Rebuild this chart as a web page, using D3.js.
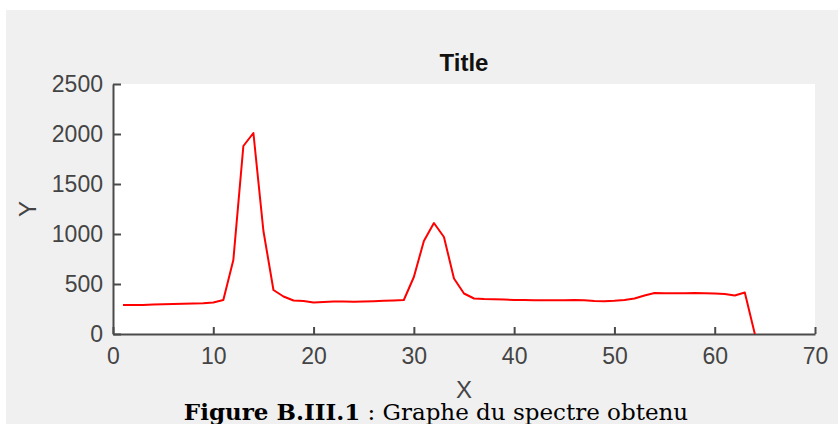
<!DOCTYPE html>
<html>
<head>
<meta charset="utf-8">
<script src="https://cdn.jsdelivr.net/npm/d3@7"></script>
<style>
  body { margin: 0; background: #fff; }
</style>
</head>
<body>
<script>
// valeurs
const xs = d3.range(1, 65);
const ys = [290, 290, 290, 295, 298, 300, 303, 305, 308, 315,
  340, 740, 1880, 2010, 1030, 440, 375, 335, 330, 315,
  320, 325, 325, 322, 325, 328, 332, 335, 340, 570,
  930, 1110, 970, 555, 405, 355, 350, 348, 345, 340,
  340, 338, 338, 338, 338, 340, 338, 330, 328, 332,
  340, 355, 385, 410, 408, 408, 408, 410, 408, 405,
  400, 385, 415, 0];
const xTicks = [0, 10, 20, 30, 40, 50, 60, 70];
const yTicks = [0, 500, 1000, 1500, 2000, 2500];

const W = 838, H = 424;
const m = { left: 113, right: 815, top: 84, bottom: 334 };

const svg = d3.select("body").append("svg")
  .attr("width", W)
  .attr("height", H);

// fond gris de la figure
svg.append("rect")
  .attr("x", 6).attr("y", 10)
  .attr("width", W - 6).attr("height", H - 10)
  .attr("fill", "#f0f0f0");

// zone blanche des axes
svg.append("rect")
  .attr("x", m.left).attr("y", m.top)
  .attr("width", m.right - m.left).attr("height", m.bottom - m.top)
  .attr("fill", "#fff");

const x = d3.scaleLinear().domain([0, 70]).range([m.left, m.right]);
const y = d3.scaleLinear().domain([0, 2500]).range([m.bottom, m.top]);

const axisColor = "#4a4a4a";

// axe X, ticks vers l'intérieur
const gx = svg.append("g")
  .attr("transform", `translate(0,${m.bottom})`)
  .call(d3.axisBottom(x).tickValues(xTicks).tickFormat(d3.format("d"))
    .tickSizeInner(-7).tickSizeOuter(0).tickPadding(14));

const gy = svg.append("g")
  .attr("transform", `translate(${m.left},0)`)
  .call(d3.axisLeft(y).tickValues(yTicks).tickFormat(d3.format("d"))
    .tickSizeInner(-8).tickSizeOuter(0).tickPadding(10));

[gx, gy].forEach(g => {
  g.select(".domain").attr("stroke", axisColor).attr("stroke-width", 2);
  g.selectAll(".tick line").attr("stroke", axisColor).attr("stroke-width", 2);
  g.selectAll(".tick text")
    .attr("fill", "#444")
    .style("font-family", "'Liberation Sans', Arial, sans-serif")
    .style("font-size", "23px");
});

// courbe
const line = d3.line()
  .x((d, i) => x(xs[i]))
  .y(d => y(d));

svg.append("path")
  .datum(ys)
  .attr("d", line)
  .attr("fill", "none")
  .attr("stroke", "#ff0000")
  .attr("stroke-width", 2)
  .attr("stroke-linejoin", "round");

// titres
svg.append("text")
  .attr("x", (m.left + m.right) / 2)
  .attr("y", 71)
  .attr("text-anchor", "middle")
  .style("font-family", "'Liberation Sans', Arial, sans-serif")
  .style("font-size", "24px")
  .style("font-weight", "bold")
  .attr("fill", "#111")
  .text("Title");

svg.append("text")
  .attr("transform", `translate(36,${(m.top + m.bottom) / 2}) rotate(-90)`)
  .attr("text-anchor", "middle")
  .style("font-family", "'Liberation Sans', Arial, sans-serif")
  .style("font-size", "24px")
  .attr("fill", "#444")
  .text("Y");

svg.append("text")
  .attr("x", (m.left + m.right) / 2)
  .attr("y", 398)
  .attr("text-anchor", "middle")
  .style("font-family", "'Liberation Sans', Arial, sans-serif")
  .style("font-size", "24px")
  .attr("fill", "#444")
  .text("X");

// légende de la figure
const cap = svg.append("text")
  .attr("x", 436)
  .attr("y", 420)
  .attr("text-anchor", "middle")
  .style("font-family", "'DejaVu Serif', serif")
  .style("font-size", "23px")
  .attr("fill", "#000");
cap.append("tspan").style("font-weight", "bold").text("Figure B.III.1");
cap.append("tspan").text(" : Graphe du spectre obtenu");
</script>
</body>
</html>
